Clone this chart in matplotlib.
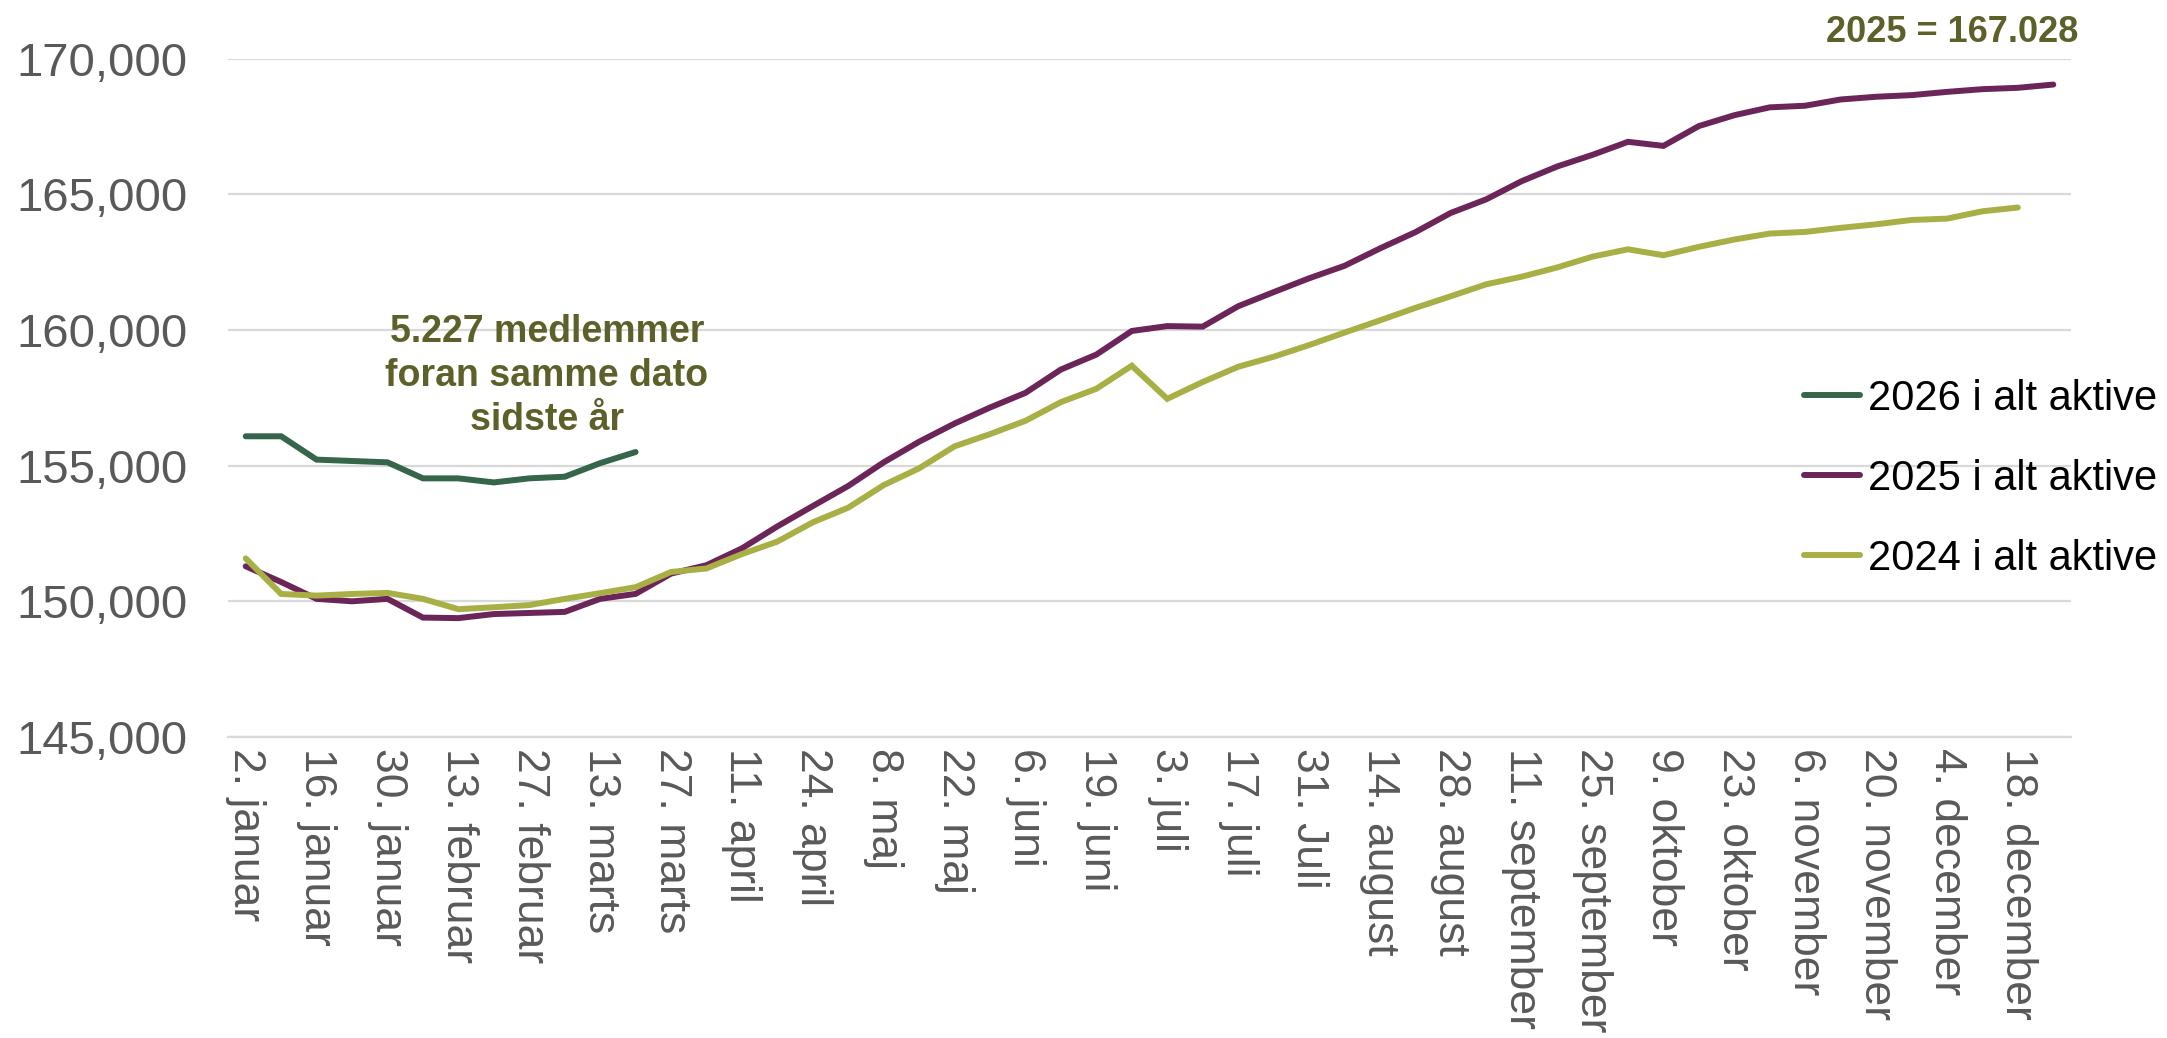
import matplotlib
matplotlib.use("Agg")
import matplotlib.pyplot as plt
from matplotlib.ticker import FuncFormatter

plt.rcParams['font.family'] = ['Liberation Sans', 'DejaVu Sans']

# ---- data ----
tick_labels = ["2. januar", "16. januar", "30. januar", "13. februar", "27. februar",
               "13. marts", "27. marts", "11. april", "24. april", "8. maj", "22. maj",
               "6. juni", "19. juni", "3. juli", "17. juli", "31. Juli", "14. august",
               "28. august", "11. september", "25. september", "9. oktober",
               "23. oktober", "6. november", "20. november", "4. december",
               "18. december"]
n_weeks = 52

v2026 = [156080, 156080, 155220, 155170, 155120, 154530, 154530, 154380, 154530,
         154590, 155090, 155500]

v2025 = [151290, 150710, 150090, 150000, 150090, 149400, 149380, 149530, 149570,
         149610, 150090, 150273, 151020, 151330, 151950, 152760, 153510, 154250,
         155120, 155880, 156550, 157140, 157680, 158540, 159090, 159960, 160140,
         160120, 160870, 161390, 161900, 162360, 163000, 163600, 164310, 164810,
         165480, 166020, 166450, 166930, 166780, 167510, 167910, 168200, 168260,
         168490, 168590, 168650, 168770, 168870, 168920, 169040]

v2024 = [151580, 150270, 150210, 150270, 150310, 150090, 149710, 149780, 149860,
         150090, 150300, 150520, 151080, 151210, 151740, 152200, 152910, 153450,
         154280, 154900, 155710, 156160, 156650, 157340, 157830, 158680, 157460,
         158080, 158640, 159010, 159440, 159900, 160350, 160810, 161240, 161680,
         161960, 162300, 162700, 162970, 162750, 163060, 163330, 163550, 163610,
         163760, 163890, 164050, 164100, 164370, 164510]

series_labels = ["2026 i alt aktive", "2025 i alt aktive", "2024 i alt aktive"]
colors = ["#35654A", "#6C2559", "#A8B045"]
text_color = "#5E6029"

# ---- figure ----
W, H = 2167, 1038
fig = plt.figure(figsize=(W / 100, H / 100), dpi=100)
ax = fig.add_axes([228 / W, 1 - 737 / H, (2071 - 228) / W, (737 - 58.5) / H])

lw = 4.3
for vals, lab, c in zip([v2026, v2025, v2024], series_labels, colors):
    ax.plot(range(len(vals)), vals, color=c, lw=lw, label=lab,
            solid_capstyle='round', solid_joinstyle='miter', zorder=3)

ax.set_xlim(-0.5, n_weeks - 0.5)
ax.set_ylim(145000, 170000)
ax.set_yticks(range(145000, 170001, 5000))
ax.yaxis.set_major_formatter(FuncFormatter(lambda v, p: f"{int(v):,}"))
ax.set_xticks(range(0, n_weeks, 2))
ax.set_xticklabels(tick_labels, rotation=270, ha='center', va='top')

ax.grid(axis='y', color='#D9D9D9', lw=1.6, zorder=0)
for s in ['top', 'right', 'left']:
    ax.spines[s].set_visible(False)
ax.spines['bottom'].set_color('#D9D9D9')
ax.spines['bottom'].set_linewidth(1.6)
ax.tick_params(axis='both', length=0, colors='#595959')
ax.tick_params(axis='y', labelsize=34, pad=29)
ax.tick_params(axis='x', labelsize=32, pad=8)

leg = ax.legend(loc='upper left', bbox_to_anchor=(1804 / W, 1 - 379 / H),
                bbox_transform=fig.transFigure, frameon=False, fontsize=30,
                handlelength=1.35, handletextpad=0.18, labelspacing=0.96,
                borderpad=0, borderaxespad=0)
for t in leg.get_texts():
    t.set_color('black')

fig.text(547 / W, 1 - 376 / H, "5.227 medlemmer\nforan samme dato\nsidste år",
         ha='center', va='center', fontsize=27, fontweight='bold',
         color=text_color, linespacing=1.3)
fig.text(1952 / W, 1 - 33 / H, "2025 = 167.028", ha='center', va='center',
         fontsize=26, fontweight='bold', color=text_color)

fig.savefig("out.png", dpi=100)
